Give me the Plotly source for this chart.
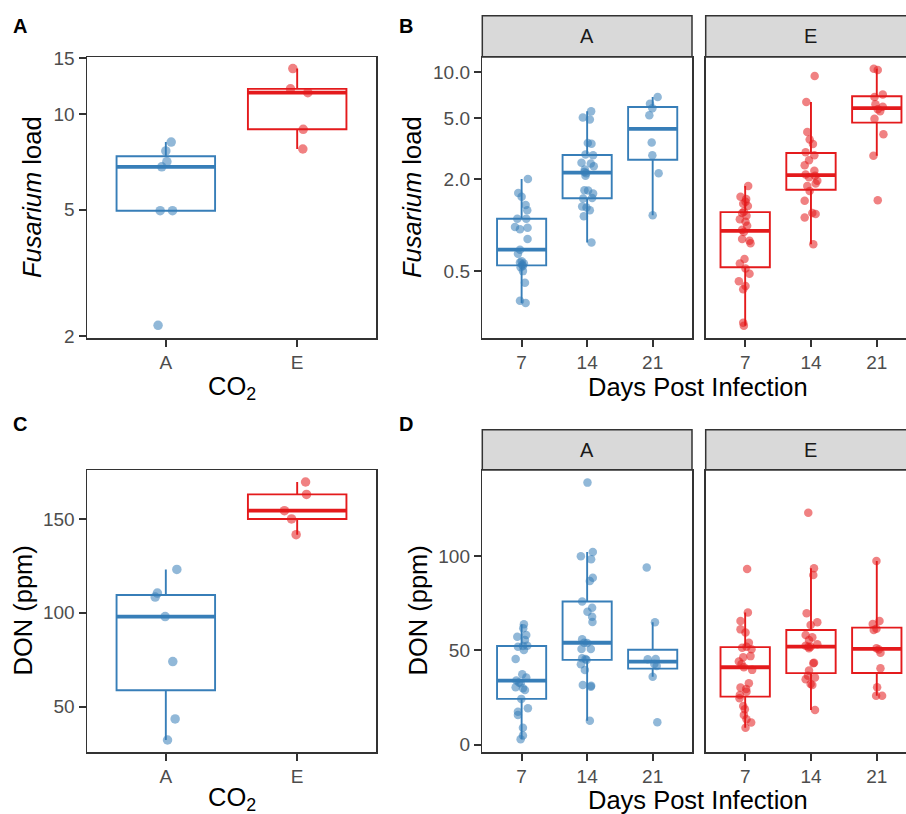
import numpy as np
import plotly.graph_objects as go

W, H = 906, 814
BLUE = "#377EB8"
RED = "#E41A1C"
BLUE_PT = "rgba(55,126,184,0.55)"
RED_PT = "rgba(228,26,28,0.55)"
FONT = "Liberation Sans, Arial, sans-serif"

# ---------------- data ----------------
co2_levels = ["A", "E"]
days = ["7", "14", "21"]

# Panel A: Fusarium load by CO2
fus_co2_A = [8.16, 7.65, 7.08, 6.82, 4.96, 4.96, 2.16]
fus_co2_A_jit = [0.041, 0.0, 0.008, -0.031, -0.043, 0.051, -0.059]
fus_co2_E = [13.9, 12.0, 11.67, 8.95, 7.76]
fus_co2_E_jit = [-0.033, -0.051, 0.081, 0.046, 0.043]

# Panel C: DON by CO2
don_co2_A = [123.1, 110.5, 108.4, 98.0, 74.0, 43.4, 32.2]
don_co2_A_jit = [0.084, -0.064, -0.081, -0.005, 0.053, 0.071, 0.013]
don_co2_E = [169.7, 163.1, 154.4, 150.0, 141.6]
don_co2_E_jit = [0.064, 0.071, -0.097, -0.043, -0.008]

# Panel B: Fusarium load by days, facet A
fus_A7 = [2.00, 1.62, 1.53, 1.35, 1.25, 1.10, 1.10, 0.97, 0.96, 0.94, 0.81, 0.69, 0.65,
          0.58, 0.57, 0.56, 0.55, 0.54, 0.53, 0.50, 0.42, 0.32, 0.31]
fus_A7_jit = [0.096, -0.051, 0.000, 0.061, 0.086, -0.066, 0.071, -0.101, 0.091, -0.025, 0.091,
              -0.025, -0.056, 0.000, -0.025, 0.035, 0.010, 0.020, -0.015, 0.020, 0.051, -0.025, 0.061]
fus_A14 = [5.53, 5.04, 4.89, 3.44, 3.40, 2.89, 2.86, 2.55, 2.52, 2.42, 2.31, 2.22, 2.18, 2.10,
           1.69, 1.68, 1.61, 1.50, 1.49, 1.32, 1.30, 1.25, 1.14, 0.77]
fus_A14_jit = [0.061, -0.066, 0.041, 0.010, 0.066, -0.025, 0.091, -0.086, 0.056, 0.101, -0.035,
               -0.041, -0.015, -0.025, -0.041, 0.015, 0.091, 0.076, -0.061, -0.076, -0.010, 0.041,
               -0.051, 0.066]
fus_A21 = [6.87, 6.21, 5.80, 5.21, 3.46, 2.86, 2.18, 1.16]
fus_A21_jit = [0.076, -0.041, -0.005, -0.051, -0.015, -0.005, 0.091, 0.0]

# Panel B: facet E
fus_E7 = [1.80, 1.53, 1.48, 1.42, 1.38, 1.33, 1.22, 1.20, 1.15, 1.09, 1.05, 0.99, 0.93, 0.90,
          0.81, 0.79, 0.76, 0.60, 0.56, 0.52, 0.48, 0.43, 0.40, 0.38, 0.23, 0.22]
fus_E7_jit = [0.046, -0.071, 0.015, 0.005, -0.030, 0.041, -0.020, -0.046, 0.020, -0.081, 0.005,
              0.030, -0.046, -0.020, -0.046, 0.066, 0.081, -0.010, -0.081, 0.005, 0.066, -0.096,
              0.005, -0.030, -0.030, -0.020]
fus_E14 = [9.40, 6.37, 4.06, 3.62, 3.38, 2.99, 2.86, 2.65, 2.46, 2.26, 2.14, 2.10, 2.05, 1.95,
           1.87, 1.80, 1.67, 1.44, 1.20, 1.18, 1.12, 0.75]
fus_E14_jit = [0.056, -0.071, -0.056, -0.020, 0.030, -0.081, 0.051, -0.030, -0.096, 0.051, -0.081,
               0.061, -0.030, 0.096, 0.071, -0.056, -0.020, -0.096, 0.020, 0.071, -0.096, 0.035]
fus_E21 = [10.5, 10.3, 7.14, 6.87, 6.15, 5.92, 5.70, 5.54, 4.95, 3.92, 2.84, 1.45]
fus_E21_jit = [-0.046, 0.015, 0.091, -0.035, -0.020, 0.091, 0.015, 0.051, -0.035, 0.101, -0.051, 0.015]

# Panel D: DON by days, facet A
don_A7 = [63.9, 61.8, 58.2, 57.3, 55.6, 52.5, 52.4, 52.0, 50.3, 45.5, 37.4, 35.6, 34.0, 33.0,
          32.6, 30.5, 29.9, 29.0, 24.3, 19.3, 17.5, 15.8, 9.0, 4.8, 2.9]
don_A7_jit = [0.035, 0.025, 0.071, -0.066, 0.051, 0.086, 0.020, -0.056, 0.035, -0.091, 0.010,
              0.071, -0.081, -0.041, -0.015, -0.091, 0.020, 0.051, -0.005, 0.096, -0.056, -0.056,
              0.020, 0.020, -0.015]
don_A14 = [139.1, 102.3, 100.0, 98.4, 88.6, 86.9, 76.0, 72.7, 70.6, 67.9, 65.1, 55.9, 54.1, 54.0,
           50.8, 50.8, 45.9, 45.5, 45.0, 42.7, 39.6, 31.7, 31.3, 30.8, 12.7]
don_A14_jit = [0.005, 0.086, -0.096, 0.061, 0.086, 0.041, -0.076, 0.076, 0.005, 0.076, 0.081,
               -0.076, -0.046, 0.0, -0.086, 0.056, -0.076, -0.025, -0.010, -0.096, -0.035, -0.066,
               0.061, 0.056, 0.041]
don_A21 = [94.0, 65.0, 45.5, 45.3, 42.8, 41.8, 36.1, 11.9]
don_A21_jit = [-0.091, 0.035, 0.046, -0.076, 0.025, 0.061, 0.0, 0.071]

# Panel D: facet E
don_E7 = [93.3, 70.1, 65.7, 61.2, 59.5, 54.1, 52.0, 51.5, 50.6, 47.0, 46.4, 44.1, 42.8, 41.1,
          39.7, 32.6, 30.3, 29.5, 28.1, 26.4, 24.6, 20.5, 18.8, 15.8, 13.5, 11.7, 9.0]
don_E7_jit = [0.030, 0.041, -0.071, -0.071, 0.005, 0.056, 0.020, -0.046, 0.096, 0.081, -0.030,
              -0.096, -0.056, -0.020, 0.106, 0.056, -0.071, 0.015, 0.020, -0.081, -0.086, -0.030,
              -0.005, -0.020, 0.020, 0.091, 0.005]
don_E14 = [123.1, 93.6, 90.1, 69.7, 65.0, 63.5, 58.2, 57.0, 55.6, 53.3, 52.5, 52.0, 52.0, 51.2,
           43.5, 43.2, 39.3, 36.6, 35.6, 34.7, 32.2, 31.7, 18.4]
don_E14_jit = [-0.041, 0.046, 0.035, -0.066, 0.096, -0.005, -0.081, 0.020, -0.030, 0.096, -0.081,
               -0.005, -0.041, -0.030, 0.046, 0.035, -0.030, -0.046, 0.061, -0.081, -0.005, 0.020,
               0.061]
don_E21 = [97.5, 65.7, 64.1, 61.5, 60.9, 51.2, 50.5, 48.8, 40.5, 30.5, 26.0, 26.0]
don_E21_jit = [-0.005, 0.041, -0.061, -0.005, -0.046, -0.005, 0.030, 0.056, 0.056, 0.005, -0.010, 0.081]

fus_ticks = [2, 5, 10, 15]
fus_day_ticks = [0.5, 2.0, 5.0, 10.0]
don_ticks = [50, 100, 150]
don_day_ticks = [0, 50, 100]


# ---------------- helpers ----------------
def box_stats(vals, log):
    v = np.asarray(vals, float)
    t = np.log10(v) if log else v
    q1, med, q3 = np.percentile(t, [25, 50, 75])
    iqr = q3 - q1
    lo = t[t >= q1 - 1.5 * iqr].min()
    hi = t[t <= q3 + 1.5 * iqr].max()
    s = [q1, med, q3, lo, hi]
    if log:
        s = [10 ** x for x in s]
    return s


fig = go.Figure()
BOXW = 0.75


def add_boxes(groups, color, xa, ya, log):
    pos = [g[2] for g in groups]
    st = [box_stats(g[0], log) for g in groups]
    fig.add_trace(go.Box(
        x=pos, q1=[s[0] for s in st], median=[s[1] for s in st], q3=[s[2] for s in st],
        lowerfence=[s[3] for s in st], upperfence=[s[4] for s in st],
        width=BOXW, whiskerwidth=0, boxpoints=False,
        line=dict(color=color, width=1.9), fillcolor="white",
        xaxis=xa, yaxis=ya, hoverinfo="skip", showlegend=False))
    mx, my = [], []
    for p, s in zip(pos, st):
        mx += [p - BOXW / 2, p + BOXW / 2, None]
        my += [s[1], s[1], None]
    fig.add_trace(go.Scatter(x=mx, y=my, mode="lines", line=dict(color=color, width=3.8),
                             xaxis=xa, yaxis=ya, hoverinfo="skip", showlegend=False))


def add_points(groups, color, xa, ya, size):
    xs, ys = [], []
    for vals, jit, p in groups:
        xs += [p + j for j in jit]
        ys += list(vals)
    fig.add_trace(go.Scatter(x=xs, y=ys, mode="markers",
                             marker=dict(color=color, size=size, line=dict(width=0)),
                             xaxis=xa, yaxis=ya, hoverinfo="skip", showlegend=False))


panels = [
    # (groups, line colour, point colour, xaxis, yaxis, log, size)
    ([(fus_co2_A, fus_co2_A_jit, 0)], BLUE, BLUE_PT, "x", "y", True, 9.5),
    ([(fus_co2_E, fus_co2_E_jit, 1)], RED, RED_PT, "x", "y", True, 9.5),
    ([(fus_A7, fus_A7_jit, 0), (fus_A14, fus_A14_jit, 1), (fus_A21, fus_A21_jit, 2)],
     BLUE, BLUE_PT, "x2", "y2", True, 8.5),
    ([(fus_E7, fus_E7_jit, 0), (fus_E14, fus_E14_jit, 1), (fus_E21, fus_E21_jit, 2)],
     RED, RED_PT, "x3", "y3", True, 8.5),
    ([(don_co2_A, don_co2_A_jit, 0)], BLUE, BLUE_PT, "x4", "y4", False, 9.5),
    ([(don_co2_E, don_co2_E_jit, 1)], RED, RED_PT, "x4", "y4", False, 9.5),
    ([(don_A7, don_A7_jit, 0), (don_A14, don_A14_jit, 1), (don_A21, don_A21_jit, 2)],
     BLUE, BLUE_PT, "x5", "y5", False, 8.5),
    ([(don_E7, don_E7_jit, 0), (don_E14, don_E14_jit, 1), (don_E21, don_E21_jit, 2)],
     RED, RED_PT, "x6", "y6", False, 8.5),
]
for g, c, pc, xa, ya, lg, sz in panels:
    add_boxes(g, c, xa, ya, lg)
for g, c, pc, xa, ya, lg, sz in panels:
    add_points(g, pc, xa, ya, sz)


# ---------------- layout ----------------
def fx(p):
    return p / W


def fy(p):
    return 1 - p / H


LINE = "#333333"
TICKFONT = dict(family=FONT, size=19, color="#4D4D4D")


def xax(domain, rng, labels, anchor):
    return dict(domain=domain, range=rng, anchor=anchor, tickmode="array",
                tickvals=list(range(len(labels))), ticktext=labels, automargin=False,
                showgrid=False, zeroline=False, showline=True, mirror=True,
                linecolor=LINE, linewidth=1.5, ticks="outside", ticklen=7,
                tickwidth=2, tickcolor=LINE, tickfont=TICKFONT, fixedrange=True)


def yax(domain, rng, tickvals, ticktext, anchor, log, show=True, mirror=True):
    d = dict(domain=domain, range=rng, anchor=anchor, type="log" if log else "linear",
             tickmode="array", tickvals=tickvals, automargin=False,
             showgrid=False, zeroline=False, showline=True, mirror=mirror,
             linecolor=LINE, linewidth=1.5, tickfont=TICKFONT, fixedrange=True)
    if show:
        d.update(ticktext=ticktext, ticks="outside", ticklen=7, tickwidth=2, tickcolor=LINE)
    else:
        d.update(ticks="", showticklabels=False)
    return d


top_y = [fy(338), fy(57)]
bot_y = [fy(752), fy(470)]
left_x = [fx(87), fx(376)]
fa_x = [fx(482.3), fx(692)]
fe_x = [fx(705.7), 1.0]

fig.update_layout(
    width=W, height=H, autosize=False,
    margin=dict(l=0, r=0, t=0, b=0, pad=0, autoexpand=False),
    paper_bgcolor="white", plot_bgcolor="white",
    boxmode="overlay", showlegend=False,
    font=dict(family=FONT, color="black"),
    xaxis=xax(left_x, [-0.6, 1.6], co2_levels, "y"),
    yaxis=yax(top_y, [0.2947, 1.1795], fus_ticks, [str(t) for t in fus_ticks], "x", True),
    xaxis2=xax(fa_x, [-0.6, 2.6], days, "y2"),
    yaxis2=yax(top_y, [-0.738, 1.098], fus_day_ticks, ["%.1f" % t for t in fus_day_ticks], "x2", True),
    xaxis3=xax(fe_x, [-0.6, 2.444], days, "y3"),
    yaxis3=yax(top_y, [-0.738, 1.098], fus_day_ticks, None, "x3", True, show=False, mirror=False),
    xaxis4=xax(left_x, [-0.6, 1.6], co2_levels, "y4"),
    yaxis4=yax(bot_y, [25.8, 176.1], don_ticks, [str(t) for t in don_ticks], "x4", False),
    xaxis5=xax(fa_x, [-0.6, 2.6], days, "y5"),
    yaxis5=yax(bot_y, [-3.9, 145.8], don_day_ticks, [str(t) for t in don_day_ticks], "x5", False),
    xaxis6=xax(fe_x, [-0.6, 2.444], days, "y6"),
    yaxis6=yax(bot_y, [-3.9, 145.8], don_day_ticks, None, "x6", False, show=False, mirror=False),
)

# facet strips
shapes = []
annotations = []
for (y0, y1, ty) in [(15.7, 57, 36), (429.7, 470, 450)]:
    for (x0, x1, lab, tx) in [(482.3, 692, "A", 587.2), (705.7, 930, "E", 810)]:
        shapes.append(dict(type="rect", xref="paper", yref="paper",
                           x0=fx(x0), x1=fx(x1), y0=fy(y1), y1=fy(y0),
                           fillcolor="#D9D9D9", line=dict(color=LINE, width=1.5), layer="below"))
        annotations.append(dict(text=lab, xref="paper", yref="paper", x=fx(tx), y=fy(ty),
                                showarrow=False, xanchor="center", yanchor="middle",
                                font=dict(family=FONT, size=20, color="#1A1A1A")))

# panel letters
for lab, x, y in [("A", 19.7, 26.3), ("B", 406, 26.3), ("C", 20, 423.5), ("D", 406, 424)]:
    annotations.append(dict(text="<b>%s</b>" % lab, xref="paper", yref="paper", x=fx(x), y=fy(y),
                            showarrow=False, xanchor="center", yanchor="middle",
                            font=dict(family=FONT, size=20, color="black")))

TITLE = dict(family=FONT, size=25.5, color="black")
# y-axis titles
for txt, x, y in [("<i>Fusarium</i> load", 32, 197), ("<i>Fusarium</i> load", 412, 197),
                  ("DON (ppm)", 22.5, 611), ("DON (ppm)", 417.5, 611)]:
    annotations.append(dict(text=txt, xref="paper", yref="paper", x=fx(x), y=fy(y),
                            showarrow=False, xanchor="center", yanchor="middle",
                            textangle=-90, font=TITLE))
# x-axis titles
for txt, x, y in [("CO<sub>2</sub>", 231.7, 388), ("Days Post Infection", 698, 387),
                  ("CO<sub>2</sub>", 231.7, 799), ("Days Post Infection", 698, 800)]:
    annotations.append(dict(text=txt, xref="paper", yref="paper", x=fx(x), y=fy(y),
                            showarrow=False, xanchor="center", yanchor="middle", font=TITLE))

fig.update_layout(shapes=shapes, annotations=annotations)

fig.write_html("out.html", config={"displayModeBar": False, "staticPlot": True},
               post_script="document.body.style.margin='0';document.body.style.overflow='hidden';")
